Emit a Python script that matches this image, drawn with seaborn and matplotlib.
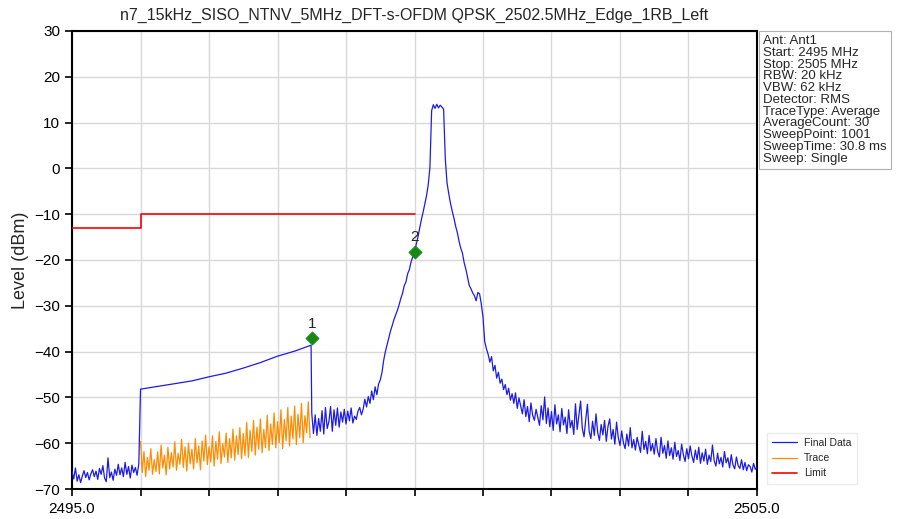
import numpy as np
import pandas as pd
import seaborn as sns
import matplotlib
matplotlib.use('Agg')
import matplotlib.pyplot as plt

title = 'n7_15kHz_SISO_NTNV_5MHz_DFT-s-OFDM QPSK_2502.5MHz_Edge_1RB_Left'
info_lines = ['Ant: Ant1', 'Start: 2495 MHz', 'Stop: 2505 MHz', 'RBW: 20 kHz',
              'VBW: 62 kHz', 'Detector: RMS', 'TraceType: Average',
              'AverageCount: 30', 'SweepPoint: 1001', 'SweepTime: 30.8 ms',
              'Sweep: Single']

# final data, left noise floor 2495.000 .. 2495.975 (0.025 MHz steps)
final_left = [
    -66.2, -67.8, -65.4, -68.3, -66.9, -68.6, -67.2, -66.0, -67.5, -66.4,
    -68.0, -66.7, -65.8, -67.3, -66.1, -67.9, -65.5, -66.8, -64.9, -67.6,
    -68.4, -63.2, -67.5, -66.3, -68.1, -65.7, -67.0, -64.6, -66.9, -65.4,
    -67.3, -64.2, -66.8, -65.1, -67.6, -64.8, -66.4, -65.3, -67.0, -64.5]

# final data, held segment 2496.0 .. 2498.49
final_mid_freq = [2496.0, 2496.25, 2496.5, 2496.75, 2497.0, 2497.25,
                  2497.5, 2497.75, 2498.0, 2498.25, 2498.49]
final_mid = [-48.2, -47.6, -47.0, -46.4, -45.5, -44.7, -43.6, -42.4, -41.0, -39.9, -38.6]

# final data, 2498.5 .. 2505.0 (0.025 MHz steps)
final_right = [
    -53.5, -57.9, -53.8, -58.3, -54.6, -57.4, -52.9, -58.0, -52.2, -56.8,
    -55.3, -52.0, -57.4, -52.7, -56.1, -52.3, -56.5, -53.2, -55.4, -52.6,
    -55.8, -53.0, -55.1, -52.3, -55.6, -54.1, -54.8, -53.0, -52.2, -53.8,
    -52.6, -50.4, -52.1, -49.8, -51.3, -48.6, -50.5, -47.7, -49.4, -47.1,
    -46.2, -44.6, -41.9, -40.0, -38.5, -37.0, -35.5, -34.3, -33.0, -32.0,
    -31.0, -29.8, -28.4, -27.3, -25.6, -24.8, -23.0, -22.1, -20.4, -19.3,
    -18.0, -16.6, -15.0, -13.1, -11.2, -9.6, -7.8, -6.0, -3.6, 0.2,
    12.6, 13.9, 13.1, 14.0, 13.2, 13.8, 13.4, 12.9, 2.0, -3.2,
    -5.5, -7.6, -9.3, -10.8, -12.6, -14.0, -15.9, -17.4, -18.5, -20.6,
    -22.0, -23.8, -25.6, -26.3, -27.2, -27.8, -28.9, -27.1, -27.4, -29.6,
    -32.5, -37.8, -39.4, -40.6, -42.3, -41.1, -44.2, -43.0, -45.8, -44.5,
    -46.9, -46.0, -48.3, -47.2, -49.4, -48.0, -50.6, -49.2, -51.3, -49.0,
    -52.4, -50.1, -51.8, -53.6, -50.5, -54.2, -52.0, -55.3, -51.2, -53.9,
    -55.0, -52.6, -54.4, -56.1, -51.8, -54.9, -49.9, -55.7, -52.3, -56.4,
    -53.1, -57.2, -51.6, -55.8, -53.8, -57.5, -52.4, -56.0, -54.3, -57.9,
    -52.7, -56.6, -55.0, -58.1, -51.4, -57.0, -53.9, -50.8, -56.8, -58.6,
    -54.8, -51.5, -57.4, -59.0, -55.2, -58.3, -53.6, -57.7, -59.4, -55.9,
    -58.2, -55.0, -59.6, -56.3, -54.7, -59.1, -57.0, -60.2, -55.4, -58.8,
    -60.5, -57.3, -59.9, -61.2, -58.0, -60.6, -56.6, -61.0, -59.2, -61.5,
    -58.7, -60.3, -62.0, -57.4, -61.4, -59.6, -62.3, -58.3, -61.7, -60.1,
    -62.4, -59.0, -61.8, -63.0, -58.7, -62.2, -60.5, -63.3, -59.5, -62.7,
    -61.0, -63.5, -59.8, -62.9, -61.6, -63.8, -60.2, -62.5, -64.0, -61.2,
    -63.4, -60.6, -62.8, -64.2, -61.5, -63.6, -60.9, -64.4, -62.1, -63.9,
    -61.3, -64.6, -62.6, -64.0, -60.4, -63.8, -65.0, -62.2, -64.5, -63.1,
    -65.2, -61.8, -64.3, -63.2, -65.4, -62.5, -64.8, -65.6, -63.0, -64.9,
    -65.5, -63.6, -65.8, -64.2, -66.0, -64.7, -65.1, -66.3, -64.4, -65.7,
    -65.2]

# trace, 2496.000 .. 2498.475 (0.025 MHz steps)
trace_lvl = [
    -59.6, -66.4, -61.8, -67.3, -63.1, -65.9, -61.2, -66.8, -63.6, -66.2,
    -61.9, -66.7, -60.4, -65.4, -62.6, -66.9, -60.9, -65.6, -62.1, -65.2,
    -59.7, -65.9, -62.2, -64.6, -59.2, -65.3, -60.8, -66.1, -60.0, -64.5,
    -61.3, -65.6, -59.0, -64.3, -60.6, -65.8, -59.5, -63.9, -58.2, -64.7,
    -60.8, -64.1, -58.4, -65.0, -59.6, -63.5, -57.5, -64.4, -60.1, -63.0,
    -57.8, -64.2, -59.0, -63.2, -56.9, -63.7, -58.4, -62.5, -56.6, -63.4,
    -57.9, -62.7, -55.5, -63.1, -57.2, -61.8, -55.0, -62.6, -56.5, -61.3,
    -54.7, -62.1, -57.0, -61.0, -53.9, -61.6, -55.8, -60.3, -53.4, -61.0,
    -55.3, -59.9, -52.7, -61.2, -54.8, -59.5, -52.2, -60.6, -54.1, -59.1,
    -51.9, -60.3, -53.7, -58.8, -51.3, -59.9, -54.0, -57.7, -51.0, -58.8]

limit_freq = [2495.0, 2496.0, 2496.0, 2500.0]
limit_lvl = [-13.0, -13.0, -10.0, -10.0]

marker_freq = [2498.5, 2500.0]
marker_lvl = [-37.0, -18.2]
marker_names = ['1', '2']

# build the series
final_freq = np.concatenate([np.linspace(2495.0, 2495.975, len(final_left)),
                             final_mid_freq,
                             np.linspace(2498.5, 2505.0, len(final_right))])
final = pd.DataFrame({'freq': final_freq,
                      'level': final_left + final_mid + final_right})
trace = pd.DataFrame({'freq': np.linspace(2496.0, 2498.475, len(trace_lvl)),
                      'level': trace_lvl})
limit = pd.DataFrame({'freq': limit_freq, 'level': limit_lvl})
markers = pd.DataFrame({'freq': marker_freq, 'level': marker_lvl})

sns.set_style('ticks')
plt.rcParams['font.family'] = ['Liberation Sans', 'DejaVu Sans']

fig = plt.figure(figsize=(8.97, 5.19), dpi=100)
ax = fig.add_axes([0.0803, 0.0578, 0.7636, 0.8825])

ax.grid(True, color='#d9d9d9', linewidth=1.0, zorder=0)
ax.set_axisbelow(True)

sns.lineplot(data=trace, x='freq', y='level', ax=ax, color='#ff8c00',
             linewidth=0.9, estimator=None, sort=False, label='Trace', zorder=2)
sns.lineplot(data=final, x='freq', y='level', ax=ax, color='#1c1ce6',
             linewidth=0.9, estimator=None, sort=False, label='Final Data', zorder=3)
sns.lineplot(data=limit, x='freq', y='level', ax=ax, color='#ff0000',
             linewidth=1.2, estimator=None, sort=False, label='Limit', zorder=3)
sns.scatterplot(data=markers, x='freq', y='level', ax=ax, marker='D', s=45,
                color='#148a14', edgecolor='#148a14', zorder=4, legend=False)
for f, l, n in zip(marker_freq, marker_lvl, marker_names):
    ax.text(f, l + 1.6, n, ha='center', va='bottom', fontsize=11, color='#222222')

ax.set_xlim(2495, 2505)
ax.set_ylim(-70, 30)
xt = list(range(2495, 2506))
ax.set_xticks(xt)
ax.set_xticklabels(['%.1f' % v if v in (2495, 2505) else '' for v in xt])
ax.set_yticks(range(-70, 31, 10))
ax.tick_params(axis='both', direction='out', length=5, width=1.2,
               labelsize=11, colors='black')
ax.tick_params(axis='x', pad=4)
for s in ax.spines.values():
    s.set_color('black')
    s.set_linewidth(1.5)
ax.set_xlabel('')
ax.set_ylabel('Level (dBm)', fontsize=13)
ax.set_title(title, fontsize=11.5, pad=8)

# legend outside the axes, lower right
h, lab = ax.get_legend_handles_labels()
order = [lab.index('Final Data'), lab.index('Trace'), lab.index('Limit')]
if ax.get_legend():
    ax.get_legend().remove()
leg = fig.legend([h[i] for i in order], [lab[i] for i in order],
                 loc='lower left', bbox_to_anchor=(0.849, 0.058),
                 fontsize=7.5, frameon=True, handlelength=2.4,
                 borderpad=0.5, labelspacing=0.5, handletextpad=0.7,
                 fancybox=False)
leg.get_frame().set_edgecolor('#e6e6e6')

fig.text(0.851, 0.932, '\n'.join(info_lines), ha='left', va='top',
         fontsize=9.5, linespacing=0.97,
         bbox=dict(boxstyle='square,pad=0.3', facecolor='white',
                   edgecolor='#b0b0b0', linewidth=0.8))

fig.savefig('out.png', dpi=100)
